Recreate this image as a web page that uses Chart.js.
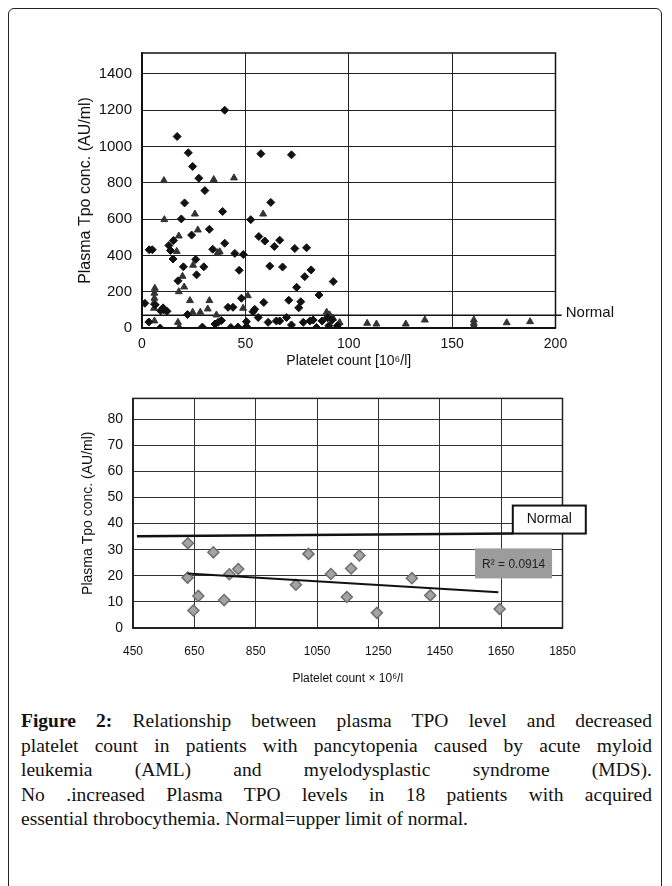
<!DOCTYPE html>
<html><head><meta charset="utf-8">
<script src="https://cdn.jsdelivr.net/npm/chart.js@4.4.1/dist/chart.umd.min.js"></script>
<style>
html,body{margin:0;padding:0;background:#fff;width:672px;height:886px;overflow:hidden;position:relative;}
#frame{position:absolute;left:8px;top:8px;width:654px;height:940px;border:1.5px solid #222;border-radius:6px;box-sizing:border-box;}
#c1{position:absolute;left:0;top:0;}
#c2{position:absolute;left:0;top:380px;}
#cap{position:absolute;left:21px;top:709px;width:631px;font-family:"Liberation Serif","Times New Roman",serif;font-size:19.5px;line-height:24.5px;color:#111;}
#cap div{text-align:justify;text-align-last:justify;}
#cap div.last{text-align:left;text-align-last:left;}
</style></head>
<body>
<div id="frame"></div>
<canvas id="c1" width="672" height="380"></canvas>
<canvas id="c2" width="672" height="320"></canvas>
<div id="cap">
<div><b>Figure 2:</b> Relationship between plasma TPO level and decreased</div>
<div>platelet count in patients with pancytopenia caused by acute myloid</div>
<div>leukemia (AML) and myelodysplastic syndrome (MDS).</div>
<div>No .increased Plasma TPO levels in 18 patients with acquired</div>
<div class="last">essential throbocythemia. Normal=upper limit of normal.</div>
</div>
<script>
// ---------- Top chart data (AML / MDS) ----------
const diamondX = [40,17,22.4,24.5,27.5,30.4,20.6,57.5,72.3,62.3,39,19,52.6,32.6,24,56.5,15.2,59.4,66.6,40,13,64,73.9,79.6,3.5,5,13.8,34.2,44.9,49,15,26,20,29.9,61.8,68,26.4,47,81.8,78.7,17.4,92.5,74.8,85.6,48.1,71,76.8,58.9,1.4,6.4,10.2,12.1,41.6,44,75.8,54.5,53.7,22,56.2,69.9,89.7,3.3,8.8,29.2,35.3,36.8,38.4,43,46.4,50.5,61,65,66.6,72.3,78,81.2,82.8,84.4,87.1,92,90.4,94.5,10.5,50.5,9];
const diamondY = [1200,1055,965,890,825,757,689,960,954,692,642,601,597,544,512,504,482,479,484,467,455,449,438,442,431,431,427,434,411,405,380,378,337,337,341,336,293,318,320,283,260,256,224,182,164,153,145,141,136,128,111,92,114,114,111,103,90,74,58,58,57,33,0,5,22,31,41,3,5,35,31,39,39,17,31,39,44,3,39,44,13,12,100,8,95];
const triangleX = [10.6,34.7,44.5,25.6,10.8,58.6,27,17.8,16.8,36.6,37.6,24.7,19.6,20.4,17.8,6.2,6,6,5.8,5.8,23.2,32.6,51.2,24.5,28.2,31.8,48.9,6,17.4,18,36,89.3,90.8,92.4,95.6,108.9,113.4,127.6,136.8,160.5,160.5,160.5,176.4,187.7];
const triangleY = [812,818,827,628,597,628,540,507,422,415,420,346,285,226,200,219,192,164,140,109,151,151,178,87,87,105,109,39,31,5,72,87,72,54,30,26,22,22,44,44,26,11,29,35];
const normalTopX = [0,203];
const normalTopY = [70,70];
const topXTicks = [0,50,100,150,200];
const topYTicks = [0,200,400,600,800,1000,1200,1400];

// ---------- Bottom chart data (essential thrombocythemia) ----------
const etX = [629,628,647,663,712,747,764,793,981,1022,1095,1147,1161,1188,1245,1359,1419,1645];
const etY = [32.5,19.3,6.7,12.3,29,10.7,20.6,22.6,16.6,28.4,20.7,11.9,22.8,27.8,5.8,19.1,12.5,7.3];
const trendX = [628,1641];
const trendY = [20.9,13.7];
const normalBotX = [463,1688];
const normalBotY = [35.2,36.2];
const botXTicks = [450,650,850,1050,1250,1450,1650,1850];
const botYTicks = [0,10,20,30,40,50,60,70,80];
const r2Text = 'R\u00B2 = 0.0914';
const r2Range = {x0:1565, x1:1816, y0:19, y1:30.5};

const pts = (xs, ys) => xs.map((x,i)=>({x:x, y:ys[i]}));
const plain = v => String(v);

Chart.defaults.font.family = '"Liberation Sans", Arial, Helvetica, sans-serif';
Chart.defaults.color = '#111';

const topPlugin = {
  id:'topDeco',
  afterDraw(chart){
    const {ctx, chartArea:a, scales:{x,y}} = chart;
    ctx.save();
    ctx.strokeStyle = '#111'; ctx.lineWidth = 1.5;
    ctx.strokeRect(a.left, a.top, a.right-a.left, a.bottom-a.top);
    ctx.fillStyle = '#111';
    ctx.font = '15px "Liberation Sans", Arial, sans-serif';
    ctx.textAlign = 'left'; ctx.textBaseline = 'middle';
    ctx.fillText('Normal', x.getPixelForValue(normalTopX[1]) + 4, y.getPixelForValue(normalTopY[1]) - 2);
    ctx.restore();
  }
};

new Chart(document.getElementById('c1'), {
  type:'scatter',
  data:{datasets:[
    {data:pts(diamondX,diamondY), pointStyle:'rectRot', pointRadius:4, backgroundColor:'#111', borderColor:'#111', borderWidth:1},
    {data:pts(triangleX,triangleY), pointStyle:'triangle', pointRadius:4, backgroundColor:'#333', borderColor:'#333', borderWidth:1},
    {type:'line', data:pts(normalTopX,normalTopY), borderColor:'#111', borderWidth:1.6, pointRadius:0, clip:{left:0,top:0,right:10,bottom:0}}
  ]},
  options:{
    responsive:false, animation:false, events:[],
    plugins:{legend:{display:false}, tooltip:{enabled:false}},
    layout:{padding:{left:76, top:53, right:116.5, bottom:0}},
    scales:{
      x:{type:'linear', min:0, max:200,
         afterBuildTicks(s){ s.ticks = topXTicks.map(v=>({value:v})); },
         ticks:{font:{size:14}, padding:8, color:'#111', callback:plain},
         grid:{color:'#222', lineWidth:1, drawTicks:false},
         border:{color:'#111', width:1.5},
         title:{display:true, text:'Platelet count [10\u2076/l]', font:{size:14}, color:'#111', padding:{top:0,bottom:10}},
         afterFit(s){ s.height = 52; }},
      y:{type:'linear', min:0, max:1515,
         afterBuildTicks(s){ s.ticks = topYTicks.map(v=>({value:v})); },
         ticks:{font:{size:15}, padding:10, color:'#111', callback:plain},
         grid:{color:'#222', lineWidth:1, drawTicks:false},
         border:{color:'#111', width:1.5},
         title:{display:true, text:'Plasma Tpo conc. (AU/ml)', font:{size:16}, color:'#111', padding:{top:0,bottom:0}},
         afterFit(s){ s.width = 66; }}
    }
  },
  plugins:[topPlugin]
});

const botPlugin = {
  id:'botDeco',
  afterDraw(chart){
    const {ctx, chartArea:a, scales:{x,y}} = chart;
    ctx.save();
    ctx.strokeStyle = '#222'; ctx.lineWidth = 1.5;
    ctx.strokeRect(a.left, a.top, a.right-a.left, a.bottom-a.top);
    const nx = x.getPixelForValue(normalBotX[1]);
    const ny = y.getPixelForValue(normalBotY[1]);
    ctx.fillStyle = '#fff';
    ctx.fillRect(nx, ny-28, 73, 28);
    ctx.strokeStyle = '#111'; ctx.lineWidth = 2;
    ctx.strokeRect(nx, ny-28, 73, 28);
    ctx.fillStyle = '#111';
    ctx.font = '14px "Liberation Sans", Arial, sans-serif';
    ctx.textAlign = 'center'; ctx.textBaseline = 'middle';
    ctx.fillText('Normal', nx+36.5, ny-14);
    const rx0 = x.getPixelForValue(r2Range.x0), rx1 = x.getPixelForValue(r2Range.x1);
    const ry0 = y.getPixelForValue(r2Range.y1), ry1 = y.getPixelForValue(r2Range.y0);
    ctx.fillStyle = '#9c9c9c';
    ctx.fillRect(rx0, ry0, rx1-rx0, ry1-ry0);
    ctx.fillStyle = '#222';
    ctx.font = '12px "Liberation Sans", Arial, sans-serif';
    ctx.fillText(r2Text, (rx0+rx1)/2, (ry0+ry1)/2 + 1);
    ctx.restore();
  }
};

new Chart(document.getElementById('c2'), {
  type:'scatter',
  data:{datasets:[
    {type:'line', data:pts(normalBotX,normalBotY), borderColor:'#111', borderWidth:2.5, pointRadius:0},
    {type:'line', data:pts(trendX,trendY), borderColor:'#111', borderWidth:2, pointRadius:0},
    {data:pts(etX,etY), pointStyle:'rectRot', pointRadius:5.5, backgroundColor:'#a3a3a3', borderColor:'#6e6e6e', borderWidth:1.5}
  ]},
  options:{
    responsive:false, animation:false, events:[],
    plugins:{legend:{display:false}, tooltip:{enabled:false}},
    layout:{padding:{left:70, top:12, right:109.5, bottom:0}},
    scales:{
      x:{type:'linear', min:450, max:1850,
         afterBuildTicks(s){ s.ticks = botXTicks.map(v=>({value:v})); },
         ticks:{font:{size:12}, padding:16, color:'#111', callback:plain},
         grid:{color:'#333', lineWidth:1, drawTicks:false},
         border:{color:'#222', width:1.5},
         title:{display:true, text:'Platelet count \u00D7 10\u2076/l', font:{size:12}, color:'#111', padding:{top:0,bottom:14}},
         afterFit(s){ s.height = 72; }},
      y:{type:'linear', min:0, max:88,
         afterBuildTicks(s){ s.ticks = botYTicks.map(v=>({value:v})); },
         ticks:{font:{size:14}, padding:10, color:'#111', callback:plain},
         grid:{color:'#333', lineWidth:1, drawTicks:false},
         border:{color:'#222', width:1.5},
         title:{display:true, text:'Plasma Tpo conc. (AU/ml)', font:{size:14}, color:'#111', padding:{top:10,bottom:0}},
         afterFit(s){ s.width = 63; }}
    }
  },
  plugins:[botPlugin]
});
</script>
</body></html>
